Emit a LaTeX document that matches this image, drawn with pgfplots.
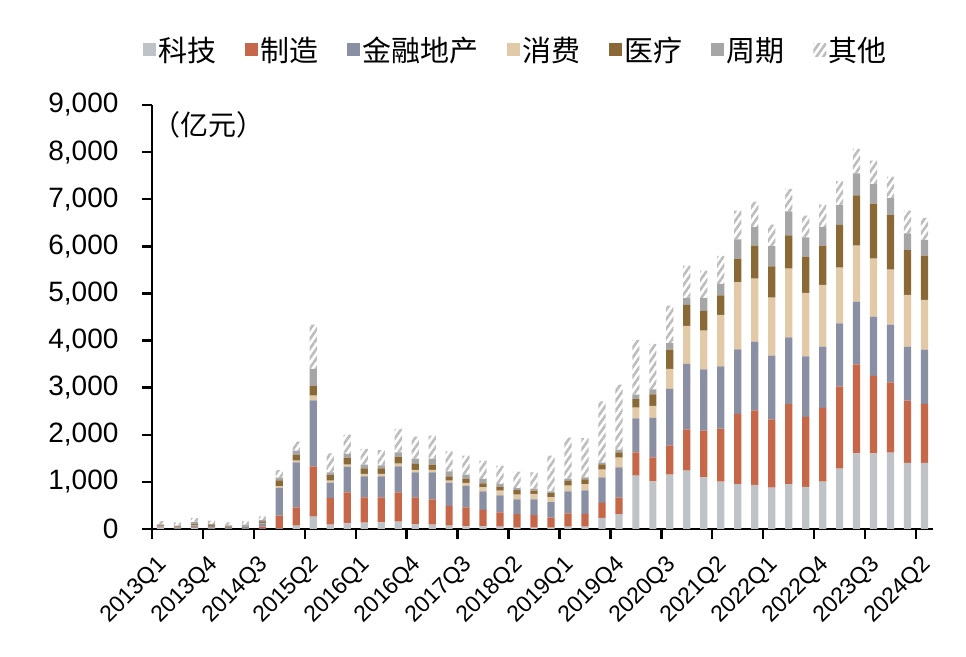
\documentclass[border=0pt]{standalone}
\usepackage{fontspec}
\setmainfont{Liberation Sans}
\newfontfamily\cjk{Noto Sans CJK SC}
\usepackage{pgfplots}
\usepackage{pgfplotstable}
\pgfplotsset{compat=1.18}
\usetikzlibrary{patterns.meta}
\definecolor{ckeji}{HTML}{BFC3C7}
\definecolor{czhizao}{HTML}{C7674A}
\definecolor{cjinrong}{HTML}{8A8FA3}
\definecolor{cxiaofei}{HTML}{E2C9A8}
\definecolor{cyiliao}{HTML}{8B6937}
\definecolor{czhouqi}{HTML}{A6A6A6}
\definecolor{cqita}{HTML}{BDBDBD}
\pgfplotstableread{
x keji zhizao jinrong xiaofei yiliao zhouqi qita
0 30 10 15 5 15 25 65
1 15 10 10 5 15 15 70
2 20 15 40 10 30 30 90
3 15 15 30 5 20 25 70
4 15 10 15 5 10 20 65
5 15 10 30 5 10 25 65
6 10 40 70 10 30 30 80
7 15 270 587 35 127 57 156
8 71 389 955 35 127 85 191
9 262 1069 1401 99 212 354 941
10 92 566 326 42 120 57 403
11 120 658 538 50 149 78 410
12 134 538 446 50 120 78 333
13 142 531 446 50 120 64 326
14 156 623 552 57 149 92 495
15 106 566 531 50 127 113 467
16 92 538 573 50 113 127 488
17 71 418 495 42 92 106 425
18 57 403 453 64 92 85 403
19 57 347 396 85 85 92 389
20 50 304 361 99 85 57 389
21 28 290 311 99 99 42 347
22 28 269 333 113 71 42 347
23 28 212 333 99 92 35 757
24 50 283 467 120 99 50 870
25 50 269 502 134 99 42 835
26 234 318 545 163 113 35 1302
27 318 347 644 205 113 57 1380
28 1132 495 722 226 184 92 1161
29 1012 510 835 255 248 106 962
30 1154 623 1196 425 410 142 793
31 1238 878 1387 807 446 149 686
32 1097 991 1302 821 418 269 587
33 1005 1125 1323 1090 418 241 594
34 955 1486 1373 1422 502 410 609
35 934 1585 1458 1338 701 396 538
36 878 1451 1352 1231 665 425 460
37 955 1698 1415 1458 708 510 474
38 892 1486 1288 1345 771 410 460
39 1005 1564 1302 1309 835 396 474
40 1281 1748 1338 1182 906 418 510
41 1606 1890 1330 1189 1069 467 517
42 1606 1642 1260 1231 1168 418 495
43 1621 1493 1224 1168 1154 361 460
44 1401 1323 1146 1097 955 354 481
45 1401 1253 1154 1054 941 333 467
}\datatable
\begin{document}
\begin{tikzpicture}
\begin{axis}[
  name=ax,
  scale only axis, width=781pt, height=424pt,
  ybar stacked, bar width=0.425,
  xmin=-0.5, xmax=45.5, ymin=0, ymax=9000,
  clip=false,
  axis x line*=bottom, axis y line*=left,
  axis line style={-, line width=2.4pt, black},
  ytick={0,1000,...,9000},
  xtick={-0.5,2.5,...,44.5},
  xticklabels={2013Q1,2013Q4,2014Q3,2015Q2,2016Q1,2016Q4,2017Q3,2018Q2,2019Q1,2019Q4,2020Q3,2021Q2,2022Q1,2022Q4,2023Q3,2024Q2},
  tick align=outside, major tick length=10pt,
  tick style={line width=2.4pt, black},
  yticklabel style={font=\fontsize{28}{32}\selectfont, xshift=-20pt},
  xticklabel style={font=\fontsize{23}{26}\selectfont, xshift=13.5pt, yshift=-20pt, rotate=45, anchor=east},
  /pgf/number format/1000 sep={,},
  /pgf/number format/assume math mode=true,
  every axis plot/.append style={draw=none},
  legend columns=-1,
  legend style={draw=none, at={(0.466,1.13)}, anchor=center,
    font=\cjk\fontsize{29}{34}\selectfont,
    /tikz/every even column/.append style={column sep=27pt}},
  legend image code/.code={\draw[#1, draw=none] (0pt,-6.5pt) rectangle (13pt,6.5pt);},
]
\addplot[fill=ckeji] table[x=x, y=keji] {\datatable};
\addplot[fill=czhizao] table[x=x, y=zhizao] {\datatable};
\addplot[fill=cjinrong] table[x=x, y=jinrong] {\datatable};
\addplot[fill=cxiaofei] table[x=x, y=xiaofei] {\datatable};
\addplot[fill=cyiliao] table[x=x, y=yiliao] {\datatable};
\addplot[fill=czhouqi] table[x=x, y=zhouqi] {\datatable};
\addplot[pattern={Lines[angle=55,distance=5.5pt,line width=2.6pt]}, pattern color=cqita] table[x=x, y=qita] {\datatable};
\legend{科技,制造,金融地产,消费,医疗,周期,其他}
\node[anchor=west, inner sep=0pt, font=\cjk\fontsize{28}{32}\selectfont] at (rel axis cs:0,0.953) {（亿元）};
\end{axis}
\pgfresetboundingbox
\path[use as bounding box] ([xshift=-152pt,yshift=-128pt]ax.south west) rectangle ([xshift=33pt,yshift=105pt]ax.north east);
\end{tikzpicture}
\end{document}
